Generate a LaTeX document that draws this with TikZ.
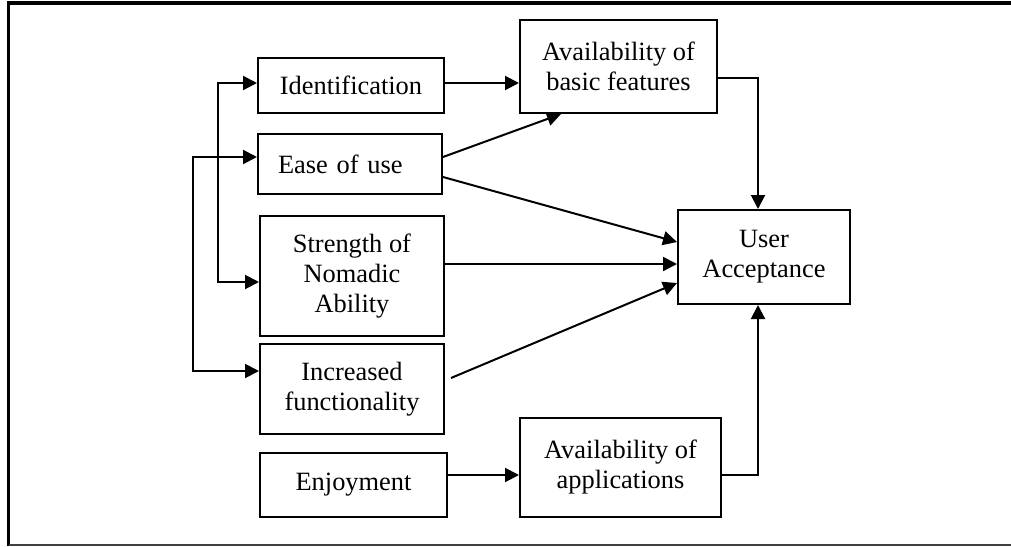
\documentclass[tikz,border=0pt]{standalone}
\usepackage{fontspec}
\setmainfont{Liberation Serif}
\usetikzlibrary{arrows.meta,calc}

\tikzset{
  box/.style={draw, line width=2pt, inner sep=0pt, align=center,
    font=\fontsize{26.4}{30}\selectfont},
  arr/.style={line width=2pt, -{Triangle[length=14pt,width=14pt]}},
  biarr/.style={line width=2pt, {Triangle[length=14pt,width=14pt]}-{Triangle[length=14pt,width=14pt]}},
  frame/.style={line width=3.5pt},
}

\begin{document}
\begin{tikzpicture}[x=1pt,y=-1pt]
\useasboundingbox (0,0) rectangle (1011,546);

% outer frame
\draw[frame] (8.5,546) -- (8.5,3) -- (1011,3);
\draw[line width=2pt, black!75] (8.5,544.5) -- (1011,544.5);

% factor boxes
\node[box, minimum width=186, minimum height=55] (ident) at (351,85.5) {Identification};
\node[box, minimum height=60, text width=144, inner xsep=20, align=left] (ease) at (350,164) {Ease of use};
\node[box, minimum width=184, minimum height=120] (strength) at (352,276) {Strength of\\Nomadic\\Ability};
\node[box, minimum width=184, minimum height=90] (incr) at (352,389) {Increased\\functionality};
\node[box, minimum width=187, minimum height=64] (enjoy) at (353.5,485) {Enjoyment};

% intermediate boxes
\node[box, minimum width=197, minimum height=93] (basic) at (618.5,66.5) {Availability of\\basic features};
\node[box, minimum width=201, minimum height=99] (apps) at (620.5,467.5) {Availability of\\applications};

% outcome
\node[box, minimum width=172, minimum height=94] (ua) at (764,257) {User\\Acceptance};

% left brackets
\coordinate (t1) at (218,83);
\coordinate (t2) at (193,157);
\draw[biarr] (ident.west |- t1) -- (t1) |- ([yshift=-6pt]strength.west);
\draw[biarr] (ease.west |- t2) -- (t2) |- ([yshift=18pt]incr.west);

% links to the intermediate boxes
\draw[arr] (ident.east |- t1) -- (basic.west |- t1);
\draw[arr] ([yshift=7pt]ease.east) -- ($(basic.south west)+(42,0)$);
\coordinate (e1) at ([yshift=10pt]enjoy.east);
\draw[arr] (e1) -- (apps.west |- e1);

% links to user acceptance
\draw[arr] ([yshift=-11.5pt]basic.east) -| ([xshift=-6pt]ua.north);
\draw[arr] ([yshift=-7.5pt]apps.east) -| ([xshift=-6pt]ua.south);
\draw[arr] ([yshift=-13pt]ease.east) -- ([yshift=15pt]ua.west);
\coordinate (s1) at ([yshift=-7pt]ua.west);
\draw[arr] (strength.east |- s1) -- (s1);
\draw[arr] ([xshift=6pt,yshift=11pt]incr.east) -- ([yshift=-26pt]ua.west);
\end{tikzpicture}
\end{document}
